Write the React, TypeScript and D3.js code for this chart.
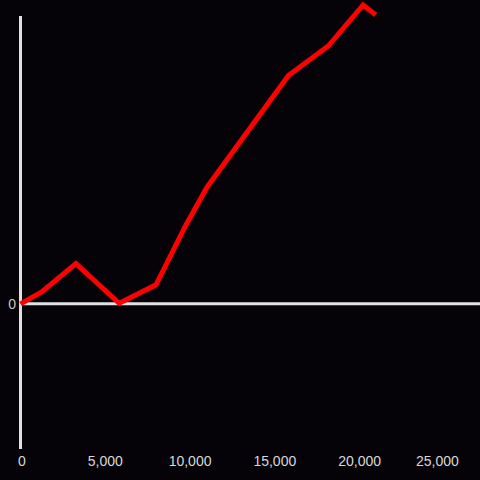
import React from "react";
import * as d3 from "d3";

const xValues = [0, 1250, 3270, 5820, 7990, 9720, 11000, 15800, 18150, 20210, 20950];
const yValues = [0, 11.8, 40.2, 0.5, 19, 77.5, 116.5, 228, 257.5, 298.5, 288.5];
const xTicks = [0, 5000, 10000, 15000, 20000, 25000];
const yTicks = [0];

const W = 480;
const H = 480;

export default function App() {
  const x = d3.scaleLinear().domain([0, 27100]).range([20.5, 480]);
  const y = d3.scaleLinear().domain([-144.5, 287.5]).range([448.5, 16]);
  const pts: [number, number][] = xValues.map((v, i) => [v, yValues[i]]);
  const line = d3
    .line<[number, number]>()
    .x((d) => x(d[0]))
    .y((d) => y(d[1]));
  const fmt = d3.format(",");
  return (
    <svg
      width={W}
      height={H}
      style={{ position: "absolute", left: 0, top: 0, background: "#050307" }}
    >
      <rect x={0} y={0} width={W} height={H} fill="#050307" />
      <line x1={x(0)} x2={x(0)} y1={16} y2={449} stroke="#e0e0e0" strokeWidth={3} />
      <line x1={19} x2={480} y1={y(0)} y2={y(0)} stroke="#e0e0e0" strokeWidth={3} />
      {yTicks.map((t) => (
        <text
          key={t}
          x={16}
          y={y(t)}
          dy="0.35em"
          textAnchor="end"
          fontSize={14}
          fontFamily="Liberation Sans, Arial, sans-serif"
          fill="#c8c8c8"
        >
          {fmt(t)}
        </text>
      ))}
      {xTicks.map((t) => (
        <text
          key={t}
          x={x(t) + (t === 0 ? 1.5 : t === 25000 ? -7 : 0)}
          y={466}
          textAnchor="middle"
          fontSize={14}
          fontFamily="Liberation Sans, Arial, sans-serif"
          fill="#d8d8d8"
        >
          {fmt(t)}
        </text>
      ))}
      <path
        d={line(pts) || ""}
        fill="none"
        stroke="#ff0000"
        strokeWidth={5}
        strokeLinejoin="miter"
        strokeLinecap="butt"
      />
    </svg>
  );
}
